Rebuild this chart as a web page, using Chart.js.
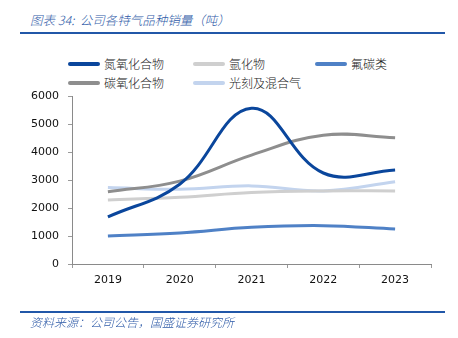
<!DOCTYPE html>
<html lang="zh">
<head>
<meta charset="UTF-8">
<title>公司各特气品种销量</title>
<script src="https://cdn.jsdelivr.net/npm/chart.js@4/dist/chart.umd.min.js"></script>
<style>
    body {
        margin: 0;
        width: 458px;
        height: 338px;
        background: #fff;
        position: relative;
        overflow: hidden;
        font-family: "Noto Sans CJK SC", sans-serif;
    }
    .title {
        position: absolute;
        left: 30px;
        top: 10px;
        font-size: 12.5px;
        font-style: italic;
        font-weight: 300;
        color: #2f5ba8;
        white-space: nowrap;
    }
    .rule {
        position: absolute;
        left: 20px;
        width: 425px;
        height: 2px;
        background: #2157a8;
    }
    .source {
        position: absolute;
        left: 30px;
        top: 313px;
        font-size: 12px;
        font-style: italic;
        font-weight: 300;
        color: #2f5ba8;
        white-space: nowrap;
    }
    #legend {
        position: absolute;
        left: 0;
        top: 0;
    }
    .item {
        position: absolute;
        height: 16px;
        font-size: 12px;
        font-weight: 300;
        color: #222;
        white-space: nowrap;
    }
    .item i {
        position: absolute;
        left: 0;
        top: 6px;
        width: 32px;
        height: 4px;
        border-radius: 2px;
    }
    .item span {
        position: absolute;
        left: 36px;
        top: -1px;
    }
    canvas {
        position: absolute;
        left: 0;
        top: 0;
    }
</style>
</head>
<body>
<div class="title">图表 34:&nbsp; 公司各特气品种销量（吨）</div>
<div class="rule" style="top:32px"></div>
<div id="legend"></div>
<canvas id="chart" width="458" height="338"></canvas>
<div class="rule" style="top:311px"></div>
<div class="source">资料来源：公司公告，国盛证券研究所</div>

<script>
const years = ['2019', '2020', '2021', '2022', '2023'];
const seriesNames = ['氮氧化合物', '氩化物', '氟碳类', '碳氧化合物', '光刻及混合气'];
const nitrogenOxides = [1680, 2850, 5560, 3250, 3360];
const argonCompounds = [2290, 2380, 2550, 2610, 2610];
const fluorocarbons = [1000, 1110, 1310, 1370, 1250];
const carbonOxides = [2580, 2960, 3890, 4600, 4510];
const photoMixGases = [2730, 2670, 2790, 2610, 2940];
const yTicks = [0, 1000, 2000, 3000, 4000, 5000, 6000];

const colors = ['#0a469c', '#cfcfcf', '#4f81c6', '#8e8e8e', '#c3d4ee'];
const values = [nitrogenOxides, argonCompounds, fluorocarbons, carbonOxides, photoMixGases];

// legend laid out as a 3-column grid
const legendPos = [[68, 56], [193, 56], [315, 56], [68, 75], [193, 75]];
const legend = document.getElementById('legend');
seriesNames.forEach((name, i) => {
    const el = document.createElement('div');
    el.className = 'item';
    el.style.left = legendPos[i][0] + 'px';
    el.style.top = legendPos[i][1] + 'px';
    el.innerHTML = `<i style="background:${colors[i]}"></i><span>${name}</span>`;
    legend.appendChild(el);
});

const tickFont = { family: 'DejaVu Sans', size: 11 };

new Chart(document.getElementById('chart'), {
    type: 'line',
    data: {
        labels: years,
        datasets: seriesNames.map((name, i) => ({
            label: name,
            data: values[i],
            borderColor: colors[i],
            backgroundColor: colors[i],
            borderWidth: 3,
            tension: 0.4,
            pointRadius: 0,
            fill: false
        }))
    },
    options: {
        responsive: false,
        animation: false,
        layout: { padding: { top: 96, right: 27, left: 0, bottom: 0 } },
        plugins: {
            legend: { display: false },
            tooltip: { enabled: false }
        },
        scales: {
            x: {
                offset: true,
                afterFit: s => { s.height = 74; },
                grid: {
                    offset: true,
                    drawOnChartArea: false,
                    tickLength: 4,
                    color: '#9a9a9a'
                },
                border: { color: '#8a8a8a', width: 1 },
                ticks: { font: tickFont, color: '#111', padding: 6 }
            },
            y: {
                min: 0,
                max: 6000,
                afterFit: s => { s.width = 72; },
                afterBuildTicks: s => { s.ticks = yTicks.map(v => ({ value: v })); },
                grid: {
                    drawOnChartArea: false,
                    tickLength: 4,
                    color: '#9a9a9a'
                },
                border: { color: '#8a8a8a', width: 1 },
                ticks: {
                    font: tickFont,
                    color: '#111',
                    padding: 9,
                    callback: v => String(v)
                }
            }
        }
    }
});
</script>
</body>
</html>
